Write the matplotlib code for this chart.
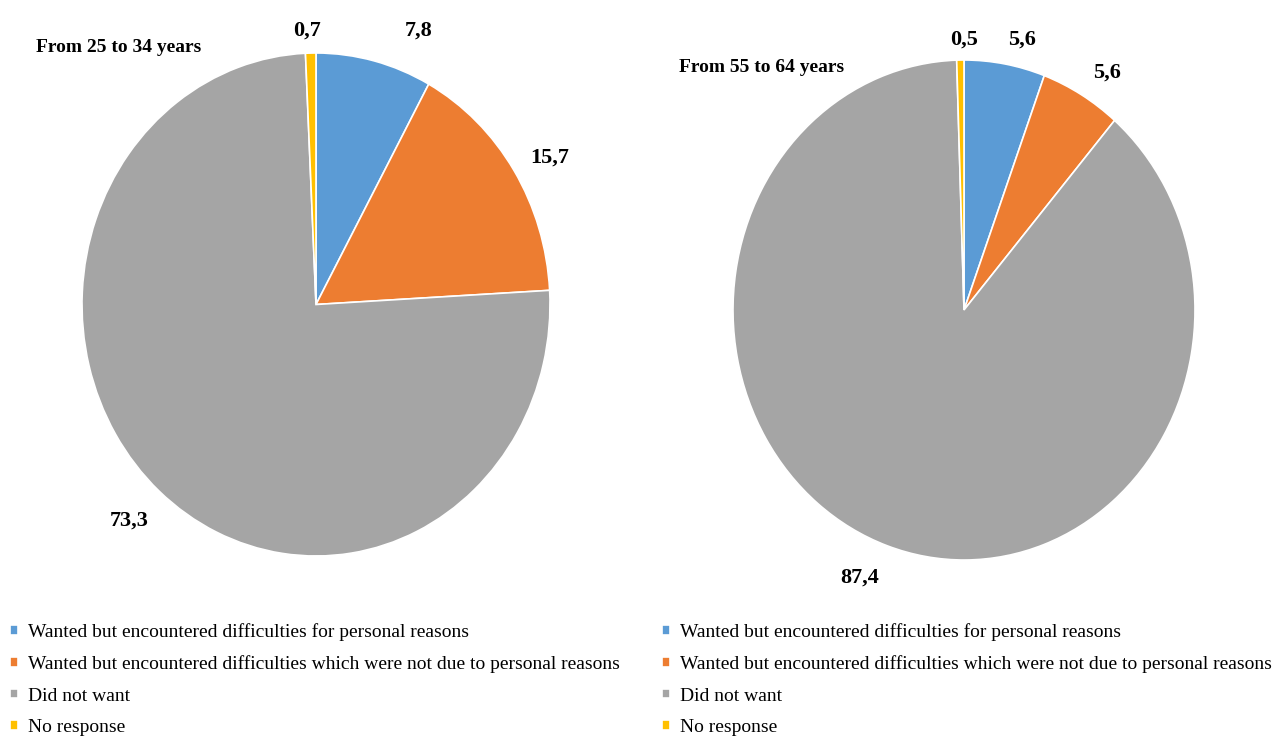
import matplotlib.pyplot as plt

plt.rcParams['font.family'] = ['Liberation Serif', 'DejaVu Serif']

categorias = ['Wanted but encountered difficulties for personal reasons',
              'Wanted but encountered difficulties which were not due to personal reasons',
              'Did not want',
              'No response']
cores = ['#5B9BD5', '#ED7D31', '#A5A5A5', '#FFC000']

titulo_esq = 'From 25 to 34 years'
valores_esq = [7.8, 15.7, 73.3, 0.7]
titulo_dir = 'From 55 to 64 years'
valores_dir = [5.6, 5.6, 87.4, 0.5]

# posicoes dos rotulos (coordenadas do eixo, raio = 1)
pos_esq = [(0.44, 1.09), (1.0, 0.585), (-0.80, -0.86), (-0.04, 1.09)]
pos_dir = [(0.25, 1.08), (0.62, 0.95), (-0.45, -1.07), (0.0, 1.08)]

W, H = 1272, 736
fig = plt.figure(figsize=(W / 100, H / 100), dpi=100)


def eixo(x0, x1, y0, y1):
    # pixels -> coordenadas da figura
    return fig.add_axes([x0 / W, 1 - y1 / H, (x1 - x0) / W, (y1 - y0) / H])


def pizza(ax, valores, posicoes, titulo, pos_titulo):
    fatias, _ = ax.pie(valores, colors=cores, startangle=90, counterclock=False,
                       wedgeprops=dict(edgecolor='white', linewidth=1.2))
    ax.set_aspect('auto')
    ax.set_xlim(-1, 1)
    ax.set_ylim(-1, 1)
    for v, (x, y) in zip(valores, posicoes):
        ax.text(x, y, f'{v:.1f}'.replace('.', ','), ha='center', va='center',
                fontsize=16, fontweight='bold', clip_on=False)
    ax.text(pos_titulo[0], pos_titulo[1], titulo, ha='left', va='center',
            fontsize=14, fontweight='bold', clip_on=False)
    return fatias


ax_esq = eixo(82, 550, 53, 556)
fatias = pizza(ax_esq, valores_esq, pos_esq, titulo_esq, (-1.195, 1.02))

ax_dir = eixo(733, 1195, 60, 560)
pizza(ax_dir, valores_dir, pos_dir, titulo_dir, (-1.235, 0.97))

for x in [10 / W, 662 / W]:
    fig.legend(fatias, categorias, loc='upper left', bbox_to_anchor=(x, 1 - 623 / H),
               frameon=False, fontsize=14, handlelength=0.4, handleheight=0.4,
               handletextpad=0.55, labelspacing=0.74, borderpad=0, borderaxespad=0)

fig.savefig('out.png', dpi=100)
